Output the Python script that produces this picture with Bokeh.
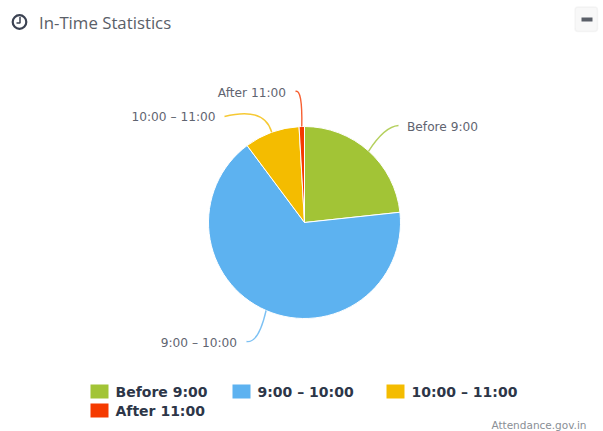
from math import sin, cos, pi
from bokeh.plotting import figure
from bokeh.models import Range1d, BoxAnnotation
from bokeh.core.properties import value
from bokeh.embed import file_html
from bokeh.resources import INLINE

categories = ["Before 9:00", "9:00 – 10:00", "10:00 – 11:00", "After 11:00"]
shares = [23.3, 66.5, 9.3, 0.9]
colors = ["#A2C436", "#5DB2F0", "#F4BC00", "#F53A00"]
title = "In-Time Statistics"
credit = "Attendance.gov.in"

W, H = 603, 431
OX, OY = 0, 0
PAGE_H = OY + H
FONT = value("DejaVu Sans")


def Y(py):
    return PAGE_H - py


p = figure(width=W, height=H, output_backend="svg", toolbar_location=None,
           x_range=Range1d(OX, OX + W), y_range=Range1d(Y(PAGE_H), Y(OY)),
           min_border=0, outline_line_color=None, background_fill_color="white",
           border_fill_color="white")
p.axis.visible = False
p.grid.visible = False

# pie
cx, cy, R = 304, 222, 96
total = sum(shares)
cum = 0
mids = []
for s, c in zip(shares, colors):
    a0 = cum / total * 2 * pi
    cum += s
    a1 = cum / total * 2 * pi
    mids.append((a0 + a1) / 2)
    p.wedge(x=[cx], y=[Y(cy)], radius=R, start_angle=pi / 2 - a1, end_angle=pi / 2 - a0,
            fill_color=c, line_color="white", line_width=1)

# leader lines: (end point, elbow)
leaders = [((398, 125), (384, 126)), ((246, 341), (258, 343)),
           ((224, 116), (264, 106)), ((295, 91), (302, 88))]
for a, c, (end, elbow) in zip(mids, colors, leaders):
    sx, sy = cx + R * sin(a), cy - R * cos(a)
    p.quadratic(x0=[sx], y0=[Y(sy)], x1=[end[0]], y1=[Y(end[1])], cx=[elbow[0]], cy=[Y(elbow[1])],
                line_color=c, line_width=1.4, line_alpha=0.8)

# data labels
label_pos = [(406.5, 126, "left"), (236.5, 342, "right"), (215, 116, "right"), (285.5, 92, "right")]
for t, (x, y, al) in zip(categories, label_pos):
    p.text(x=[x], y=[Y(y)], text=[t], text_align=al, text_baseline="middle",
           text_font=FONT, text_font_size="12.2px", text_color="#5f6470")

# legend
leg_pos = [(90, 391), (232, 391), (386, 391), (90, 410)]
for t, c, (x, y) in zip(categories, colors, leg_pos):
    p.quad(left=[x], right=[x + 18], top=[Y(y - 7)], bottom=[Y(y + 7)], fill_color=c, line_color=None)
    p.text(x=[x + 25], y=[Y(y)], text=[t], text_align="left", text_baseline="middle",
           text_font=FONT, text_font_style="bold", text_font_size="14px", text_color="#2d3648")

# credit
p.text(x=[586], y=[Y(424)], text=[credit], text_align="right", text_baseline="middle",
       text_font=FONT, text_font_size="10.5px", text_color="#8a8f96")

# title
p.text(x=[38.5], y=[Y(22)], text=[title], text_align="left", text_baseline="middle",
       text_font=value("Open Sans"), text_font_size="16.8px", text_color="#5a6068")

# clock icon
p.circle(x=[19], y=[Y(21.5)], radius=6.8, fill_color=None, line_color="#3b4252", line_width=2.2)
p.line(x=[19.5, 19.5, 16], y=[Y(16.5), Y(22.5), Y(22.5)], line_color="#3b4252", line_width=1.5)

# collapse button
p.add_layout(BoxAnnotation(left=574.5, right=597, top=Y(6.5), bottom=Y(31), border_radius=3,
                           fill_color="#f8f8f8", fill_alpha=1, line_color="#e2e2e2", line_width=1.5,
                           level="underlay"))
p.quad(left=[581], right=[592], top=[Y(17)], bottom=[Y(21)], fill_color="#5a5f68", line_color=None)

open("out.html", "w").write(file_html(p, INLINE))
